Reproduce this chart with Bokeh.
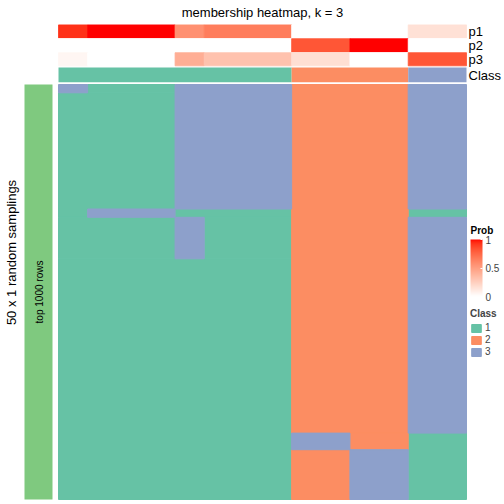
import math
from bokeh.plotting import figure
from bokeh.models import (Range1d, ColumnDataSource, LinearColorMapper, ColorBar,
                          FixedTicker, Label, Legend, LegendItem)
from bokeh.transform import transform
from bokeh.embed import file_html
from bokeh.resources import INLINE

# ---------------- data ----------------
annotation_names = ["p1", "p2", "p3"]
prob_p1 = [0.93, 1.0, 1.0, 1.0, 0.57, 0.66, 0.66, 0.66, 0.0, 0.0, 0.0, 0.0, 0.16, 0.16]
prob_p2 = [0.0, 0.0, 0.0, 0.0, 0.0, 0.0, 0.0, 0.0, 0.82, 0.82, 1.0, 1.0, 0.0, 0.0]
prob_p3 = [0.05, 0.0, 0.0, 0.0, 0.42, 0.32, 0.32, 0.32, 0.17, 0.17, 0.0, 0.0, 0.82, 0.82]
consensus_class = [1, 1, 1, 1, 1, 1, 1, 1, 2, 2, 2, 2, 3, 3]

# class of every sample in each random sampling (run-length coded rows)
sampling_patterns = [
    "31113333222233",
    "11113333222233",
    "13331111222211",
    "11113111222233",
    "11111111222233",
    "11111111332211",
    "11111111223311",
]
pattern_repeats = [1, 14, 1, 5, 21, 2, 6]

class_labels = ["1", "2", "3"]
class_colors = ["#66C2A5", "#FC8D62", "#8DA0CB"]
row_group_label = "top 1000 rows"
row_group_color = "#7FC97F"
title_text = "membership heatmap, k = 3"
ylabel_text = "50 x 1 random samplings"
prob_ticks = [0, 0.5, 1]

# ---------------- colour ramp white -> red in LAB ----------------
def lab_to_hex(L, a, b):
    fy = (L + 16) / 116
    fx = fy + a / 500
    fz = fy - b / 200
    def finv(t):
        return t ** 3 if t ** 3 > 0.008856 else (t - 16 / 116) / 7.787
    X = 0.95047 * finv(fx)
    Y = 1.0 * finv(fy)
    Z = 1.08883 * finv(fz)
    r = 3.2406 * X - 1.5372 * Y - 0.4986 * Z
    g = -0.9689 * X + 1.8758 * Y + 0.0415 * Z
    bb = 0.0557 * X - 0.2040 * Y + 1.0570 * Z
    def gam(c):
        c = 12.92 * c if c <= 0.0031308 else 1.055 * c ** (1 / 2.4) - 0.055
        return max(0, min(255, round(c * 255)))
    return "#%02X%02X%02X" % (gam(r), gam(g), gam(bb))

red_lab = (53.24, 80.09, 67.20)
palette = [lab_to_hex(100 + (red_lab[0] - 100) * t, red_lab[1] * t, red_lab[2] * t)
           for t in [i / 255 for i in range(256)]]
mapper = LinearColorMapper(palette=palette, low=0, high=1)

# ---------------- geometry (layout) ----------------
W = H = 504
X0_REF, X1_REF = 58.0, 466.0
Y0_REF, Y1_REF = 84.0, 499.0
n_cols = len(consensus_class)
n_rows = sum(pattern_repeats)
CW = (X1_REF - X0_REF) / n_cols
RH = (Y1_REF - Y0_REF) / n_rows

def dx(px):
    return (px - X0_REF) / CW

def dy(py):
    return (py - Y0_REF) / RH

def sy(py):
    return H - py

p = figure(width=W, height=H, output_backend="svg", toolbar_location=None,
           x_range=Range1d(dx(0), dx(W)), y_range=Range1d(dy(H), dy(0)),
           x_axis_location=None, y_axis_location=None, min_border=0)
p.grid.visible = False
p.outline_line_color = None
p.background_fill_color = "white"

# ---------------- heatmap body (cells merged into blocks) ----------------
rows = []
for pat, n in zip(sampling_patterns, pattern_repeats):
    for _ in range(n):
        rows.append(pat)

def row_runs(seq):
    runs, start = [], 0
    for i in range(1, len(seq) + 1):
        if i == len(seq) or seq[i] != seq[start]:
            runs.append((start, i, seq[start]))
            start = i
    return runs

blocks = []          # [c0, c1, r0, r1, value]
active = {}
for ri, pat in enumerate(rows):
    new_active = {}
    for c0, c1, v in row_runs(pat):
        key = (c0, c1, v)
        if key in active:
            blk = active[key]
            blk[3] = ri + 1
        else:
            blk = [c0, c1, ri, ri + 1, v]
            blocks.append(blk)
        new_active[key] = blk
    active = new_active

class_renderers = []
for ci, lab in enumerate(class_labels):
    sel = [b for b in blocks if b[4] == lab]
    src = ColumnDataSource(dict(left=[b[0] for b in sel], right=[b[1] for b in sel],
                                top=[b[2] for b in sel], bottom=[b[3] for b in sel]))
    rr = p.quad(left="left", right="right", top="top", bottom="bottom", source=src,
                fill_color=class_colors[ci], line_color=class_colors[ci], line_width=1)
    class_renderers.append(rr)

# ---------------- top annotations ----------------
ann_rows_px = [(24.0, 37.8), (37.8, 51.8), (51.8, 65.7)]
for vals, (t_px, b_px) in zip([prob_p1, prob_p2, prob_p3], ann_rows_px):
    runs = row_runs(vals)
    src = ColumnDataSource(dict(left=[r[0] for r in runs], right=[r[1] for r in runs],
                                val=[r[2] for r in runs]))
    p.quad(left="left", right="right", top=dy(t_px + 0.4), bottom=dy(b_px - 0.4), source=src,
           fill_color=transform("val", mapper), line_color=transform("val", mapper),
           line_width=0.8)

cruns = row_runs(consensus_class)
cls_src = ColumnDataSource(dict(left=[r[0] for r in cruns], right=[r[1] for r in cruns],
                                color=[class_colors[r[2] - 1] for r in cruns]))
p.quad(left="left", right="right", top=dy(67.0), bottom=dy(81.7), source=cls_src,
       fill_color="color", line_color=None)

# left row-group bar
p.quad(left=dx(24.0), right=dx(52.0), top=0, bottom=n_rows,
       fill_color=row_group_color, line_color=None)

# ---------------- texts ----------------
FONT = "Liberation Sans"
def lab(text, x, y, size, align="left", angle=0.0, style="normal"):
    p.add_layout(Label(x=x, y=sy(y), x_units="screen", y_units="screen", text=text,
                       text_font=FONT, text_font_size="%.1fpx" % size,
                       text_align=align, text_baseline="middle", angle=angle,
                       text_color="black", text_font_style=style))

lab(title_text, 262, 11.5, 13, align="center")
for name, (t_px, b_px) in zip(annotation_names, ann_rows_px):
    lab(name, 468, (t_px + b_px) / 2, 13)
lab("Class", 468, 74.5, 13)
lab(ylabel_text, 10.5, 252, 13, align="center", angle=math.pi / 2)
lab(row_group_label, 38.5, 291.5, 10, align="center", angle=math.pi / 2)
lab("Prob", 470, 230, 10, style="bold")

# ---------------- colour bar (location = bottom-left corner) ----------------
cb = ColorBar(color_mapper=mapper, ticker=FixedTicker(ticks=prob_ticks),
              location=(470, sy(296)), width=12, height=57,
              padding=0, margin=0, title=None,
              major_label_text_font=FONT, major_label_text_font_size="10px",
              major_tick_line_color="white", major_tick_in=2, major_tick_out=0,
              label_standoff=3, bar_line_color=None, border_line_color=None,
              background_fill_alpha=0)
p.add_layout(cb)

# ---------------- class legend (location = bottom-left corner) ----------------
legend = Legend(items=[LegendItem(label=lab_, renderers=[r_]) for lab_, r_ in zip(class_labels, class_renderers)],
                location=(470, sy(357)), title="Class",
                title_text_font=FONT, title_text_font_style="bold",
                title_text_font_size="10px", title_standoff=3,
                label_text_font=FONT, label_text_font_size="10px",
                glyph_width=12, glyph_height=10, spacing=1,
                label_standoff=3, label_height=10,
                padding=0, margin=0, border_line_color=None, background_fill_alpha=0)
p.add_layout(legend)

open("out.html", "w").write(file_html(p, INLINE))
